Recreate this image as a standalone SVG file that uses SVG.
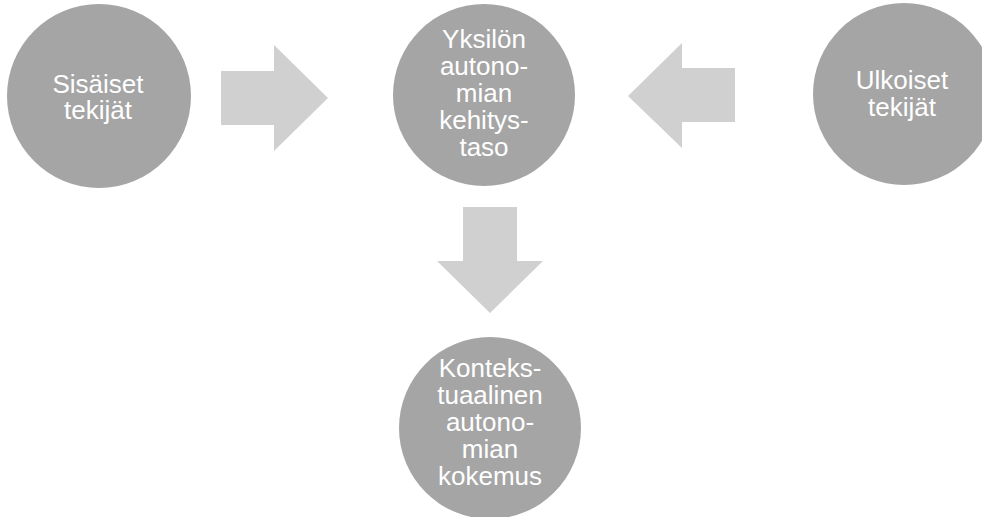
<svg xmlns="http://www.w3.org/2000/svg" width="982" height="517" viewBox="0 0 982 517">
  <style>
    .node { fill: #a5a5a5; }
    .arrow { fill: #d0d0d0; }
    .label { font-family: "Liberation Sans", Arial, sans-serif; font-size: 26px; fill: #ffffff; text-anchor: middle; }
  </style>
  <rect width="982" height="517" fill="#ffffff"/>

  <!-- block arrows -->
  <g id="connectors">
    <polygon class="arrow" points="221,71 274,71 274,45 328,98 274,151 274,125 221,125"/>
    <polygon class="arrow" points="735,68 682,68 682,43 628,96 682,148 682,122 735,122"/>
    <polygon class="arrow" points="463,207 517,207 517,261 543,261 490,313 437,261 463,261"/>
  </g>

  <g id="sisaiset">
    <circle class="node" cx="99" cy="96" r="92"/>
    <text class="label" x="98" y="93">Sisäiset</text>
    <text class="label" x="98" y="119">tekijät</text>
  </g>

  <g id="yksilon">
    <circle class="node" cx="484" cy="95" r="91"/>
    <text class="label" x="484" y="48">Yksilön</text>
    <text class="label" x="484" y="75">autono-</text>
    <text class="label" x="484" y="102">mian</text>
    <text class="label" x="484" y="129">kehitys-</text>
    <text class="label" x="484" y="156">taso</text>
  </g>

  <g id="ulkoiset">
    <circle class="node" cx="904" cy="94" r="91"/>
    <text class="label" x="902" y="89">Ulkoiset</text>
    <text class="label" x="902" y="116">tekijät</text>
  </g>

  <g id="kontekstuaalinen">
    <circle class="node" cx="490" cy="428" r="91"/>
    <text class="label" x="490" y="377">Konteks-</text>
    <text class="label" x="490" y="404">tuaalinen</text>
    <text class="label" x="490" y="431">autono-</text>
    <text class="label" x="490" y="458">mian</text>
    <text class="label" x="490" y="485">kokemus</text>
  </g>
</svg>
